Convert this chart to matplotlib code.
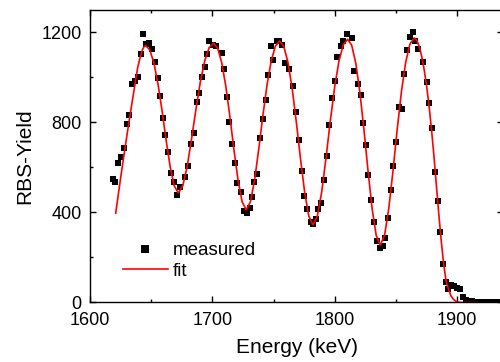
import matplotlib
matplotlib.use("Agg")
import matplotlib.pyplot as plt
from matplotlib.ticker import MultipleLocator

plt.rcParams['font.family'] = ['Liberation Sans', 'DejaVu Sans']

# measured RBS spectrum (keV, counts)
energy_meas = [1618.8, 1620.8, 1623.1, 1625.3, 1627.8, 1630.0, 1632.1, 1634.1, 1636.8, 1639.5,
               1641.4, 1643.6, 1645.9, 1648.2, 1650.6, 1653.1, 1655.3, 1657.2, 1659.4, 1661.6,
               1664.0, 1666.2, 1668.5, 1670.9, 1673.9, 1677.7, 1679.9, 1682.5, 1684.8, 1687.2,
               1689.2, 1691.5, 1693.6, 1695.3, 1697.4, 1700.5, 1703.2, 1707.7, 1709.5, 1711.7,
               1713.9, 1716.0, 1718.3, 1720.4, 1723.2, 1725.9, 1728.1, 1730.8, 1732.2, 1734.1,
               1736.3, 1739.0, 1741.4, 1743.6, 1745.9, 1747.8, 1749.8, 1752.6, 1754.8, 1756.9,
               1759.4, 1762.9, 1766.2, 1768.7, 1770.9, 1773.0, 1775.2, 1777.7, 1780.4, 1782.6,
               1784.6, 1786.6, 1788.8, 1791.3, 1793.5, 1795.6, 1798.1, 1800.3, 1802.2, 1804.9,
               1807.1, 1809.8, 1813.9, 1816.1, 1818.8, 1821.3, 1822.9, 1825.6, 1827.5, 1829.7,
               1832.2, 1834.4, 1837.1, 1839.2, 1841.2, 1843.4, 1845.8, 1848.0, 1850.1, 1852.8,
               1854.7, 1856.7, 1858.8, 1861.3, 1863.8, 1865.9, 1868.3, 1872.5, 1875.3, 1877.4,
               1879.7, 1881.8, 1884.2, 1886.4, 1888.8, 1891.0, 1892.9, 1895.2, 1897.3, 1899.6,
               1902.2, 1905.0, 1907.3, 1909.5, 1912.0, 1914.3, 1916.5, 1918.7, 1921.0, 1923.2,
               1925.4, 1927.6, 1929.8, 1932.0, 1934.3, 1936.5]
yield_meas = [550, 537, 619, 646, 685, 793, 832, 970, 985, 1004,
              1104, 1192, 1150, 1153, 1125, 1071, 997, 918, 822, 745,
              671, 577, 535, 477, 514, 558, 607, 705, 752, 893,
              932, 1004, 1045, 1106, 1162, 1145, 1138, 1108, 1039, 912,
              801, 705, 622, 533, 493, 408, 397, 419, 471, 537,
              570, 730, 816, 902, 1013, 1142, 1079, 1162, 1163, 1145,
              1065, 1039, 960, 845, 720, 586, 475, 416, 359, 349,
              370, 416, 441, 545, 652, 790, 908, 985, 1093, 1138,
              1160, 1194, 1175, 1027, 972, 923, 797, 701, 567, 456,
              359, 274, 240, 252, 287, 374, 502, 607, 715, 868,
              861, 1016, 1123, 1180, 1200, 1160, 1126, 1067, 979, 885,
              777, 582, 453, 312, 173, 93, 59, 78, 75, 66,
              60, 26, 12, 8, 5, 3, 2, 2, 1, 1,
              1, 1, 1, 1, 1, 1]

# fitted spectrum
energy_fit = [1621.0, 1623.0, 1625.0, 1627.0, 1629.0, 1631.0, 1633.0, 1635.0, 1637.0, 1639.0,
              1641.0, 1643.0, 1644.3, 1645.5,
              1648.84, 1652.18, 1655.51, 1658.85, 1662.19, 1665.53, 1668.86, 1672.2,
              1675.8, 1679.4, 1683.0, 1686.6, 1690.2, 1693.8, 1697.4, 1701.0,
              1704.34, 1707.68, 1711.01, 1714.35, 1717.69, 1721.03, 1724.36, 1727.7,
              1731.11, 1734.53, 1737.94, 1741.35, 1744.76, 1748.18, 1751.59, 1755.0,
              1758.41, 1761.83, 1765.24, 1768.65, 1772.06, 1775.48, 1778.89, 1782.3,
              1785.84, 1789.38, 1792.91, 1796.45, 1799.99, 1803.53, 1807.06, 1810.6,
              1813.94, 1817.28, 1820.61, 1823.95, 1827.29, 1830.63, 1833.96, 1837.3,
              1840.76, 1844.23, 1847.69, 1851.15, 1854.61, 1858.08, 1861.54, 1865.0,
              1867.0, 1869.0, 1871.0, 1873.0, 1875.0, 1877.0, 1879.0, 1881.0, 1883.0,
              1885.0, 1887.0, 1889.0, 1891.0, 1893.0, 1895.0, 1897.0, 1899.0, 1901.0,
              1903.0, 1916.0]
yield_fit = [397, 475, 552, 627, 700, 772, 842, 910, 978, 1045,
             1090, 1125, 1138, 1142,
             1123, 1066, 973, 854, 723, 603, 518, 487,
             518, 604, 726, 859, 981, 1075, 1133, 1152,
             1130, 1066, 961, 826, 678, 543, 447, 412,
             447, 544, 682, 832, 969, 1075, 1140, 1162,
             1138, 1067, 952, 802, 639, 489, 383, 345,
             384, 491, 642, 807, 958, 1074, 1146, 1170,
             1143, 1063, 934, 767, 584, 416, 298, 255,
             298, 418, 586, 771, 939, 1069, 1149, 1176,
             1166, 1140, 1098, 1040, 970, 880, 778, 660, 530,
             400, 280, 175, 98, 60, 30, 14, 6, 2,
             0, 0]

fig = plt.figure(figsize=(5.0, 3.62), dpi=100)
ax = fig.add_axes([0.18, 0.1644, 0.826, 0.808])

ax.plot(energy_meas, yield_meas, 's', color='black', markersize=4.5,
        markeredgewidth=0, label='measured')
ax.plot(energy_fit, yield_fit, '-', color='#ff0000', linewidth=1.2, label='fit')

ax.set_xlim(1600, 1937.6)
ax.set_ylim(0, 1300)
ax.xaxis.set_major_locator(MultipleLocator(100))
ax.xaxis.set_minor_locator(MultipleLocator(50))
ax.yaxis.set_major_locator(MultipleLocator(400))
ax.yaxis.set_minor_locator(MultipleLocator(200))
ax.tick_params(which='both', direction='in', top=True, right=True, width=1.0)
ax.tick_params(which='major', length=4, labelsize=13)
ax.tick_params(axis='x', which='major', pad=7)
ax.tick_params(axis='y', which='major', pad=6)
ax.tick_params(which='minor', length=2.2)
for sp in ax.spines.values():
    sp.set_linewidth(1.0)

ax.set_xlabel('Energy (keV)', fontsize=15, labelpad=6)
ax.set_ylabel('RBS-Yield', fontsize=15, labelpad=5)

ax.legend(loc='upper left', bbox_to_anchor=(0.081, 0.207), frameon=False,
          fontsize=13.5, handlelength=2.35, handletextpad=0.3,
          borderpad=0, borderaxespad=0, labelspacing=0.2, markerscale=1.35)

fig.savefig('out.png', dpi=100)
